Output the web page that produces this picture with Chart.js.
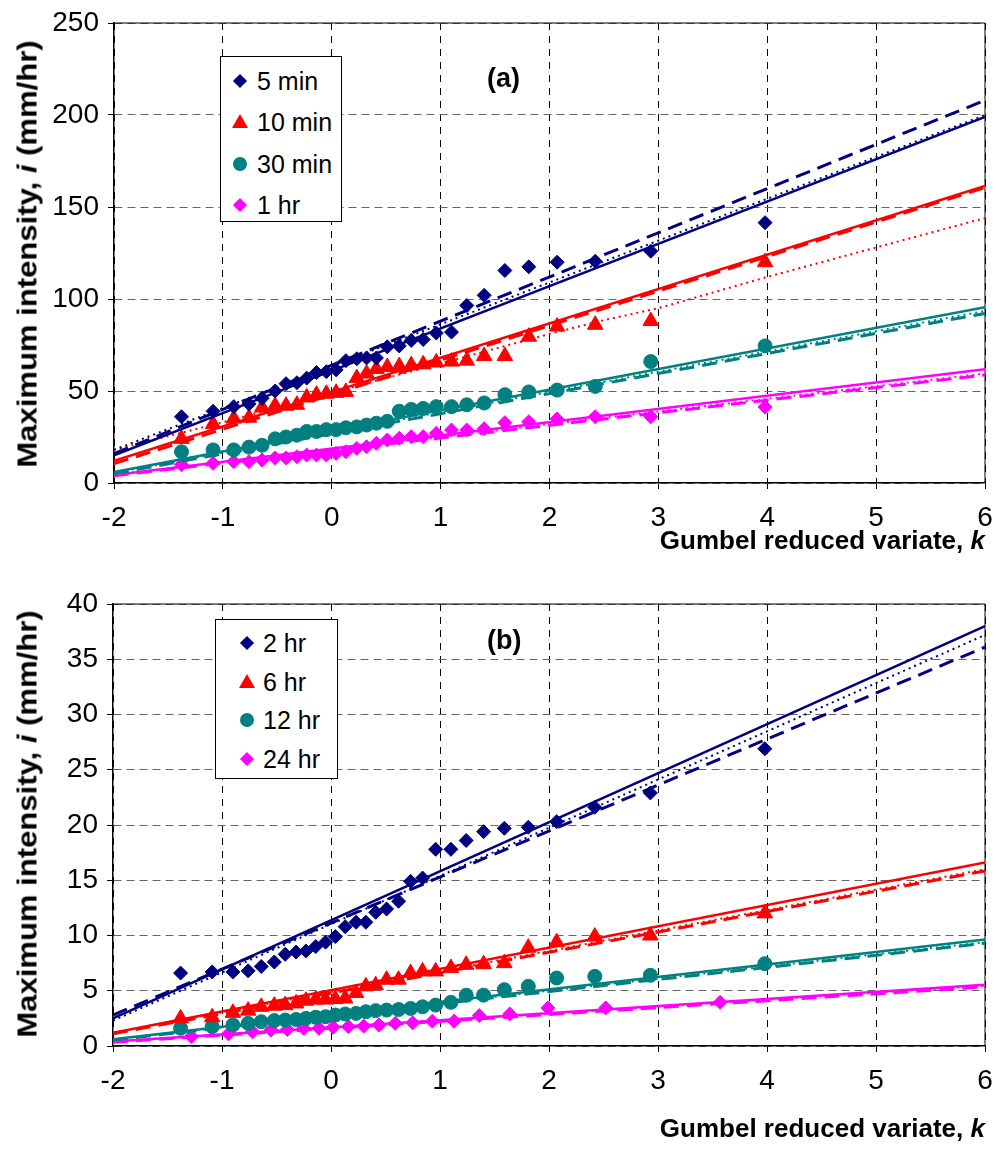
<!DOCTYPE html>
<html lang="en">
<head>
  <meta charset="UTF-8">
  <title>Gumbel plots of maximum rainfall intensity</title>
  <script src="https://cdn.jsdelivr.net/npm/chart.js"></script>
  <style>
    body { margin: 0; background: #fff; font-family: Arial, "Liberation Sans", sans-serif; color: #000; }
    .panel { position: relative; width: 996px; }
    .panel canvas { display: block; }
    .ytitle { position: absolute; font-weight: bold; font-size: 27px; white-space: nowrap;
              transform: translate(-50%, -50%) rotate(-90deg) scaleX(1.15); }
    .xtitle { position: absolute; right: 11px; font-weight: bold; font-size: 26px; white-space: nowrap; line-height: 30px; }
    .tag { position: absolute; font-weight: bold; font-size: 27px; line-height: 30px; }
    .legend { position: absolute; border: 1px solid #000; background: #fff; box-sizing: border-box; }
    .legend .row { position: absolute; left: 0; height: 30px; line-height: 30px; font-size: 25px; white-space: nowrap; }
    .legend .mk { position: absolute; top: 15px; }
    .legend .lb { position: absolute; top: 0; }
    .mk.diamond { width: 10px; height: 10px; margin: -5px 0 0 -5px; transform: rotate(45deg); }
    .mk.triangle { width: 0; height: 0; margin: -8px 0 0 -8px; border-left: 8px solid transparent; border-right: 8px solid transparent; border-bottom: 14px solid; }
    .mk.circle { width: 14px; height: 14px; margin: -7px 0 0 -7px; border-radius: 50%; }
  </style>
</head>
<body>
  <div class="panel" style="height:560px">
    <canvas id="chartA" width="996" height="560"></canvas>
    <div class="ytitle" style="left:28px; top:254px">Maximum intensity, <i>i</i> (mm/hr)</div>
    <div class="xtitle" style="top:525px">Gumbel reduced variate, <i>k</i></div>
    <div class="tag" style="left:487px; top:63px">(a)</div>
    <div class="legend" id="legA" style="left:220px; top:56px; width:122px; height:166px"></div>
  </div>
  <div class="panel" style="height:600px">
    <canvas id="chartB" width="996" height="600"></canvas>
    <div class="ytitle" style="left:28px; top:264px">Maximum intensity, <i>i</i> (mm/hr)</div>
    <div class="xtitle" style="top:553px">Gumbel reduced variate, <i>k</i></div>
    <div class="tag" style="left:487px; top:65px">(b)</div>
    <div class="legend" id="legB" style="left:215px; top:59px; width:123px; height:160px"></div>
  </div>

  <script>
    // Gumbel reduced variate of the plotted points (30 and 20 years of record)
    const k30 = [-1.38, -1.09, -0.90, -0.76, -0.64, -0.52, -0.42, -0.32, -0.23, -0.14,
                 -0.05, 0.04, 0.13, 0.23, 0.32, 0.41, 0.51, 0.62, 0.73, 0.84,
                 0.96, 1.10, 1.24, 1.40, 1.59, 1.81, 2.07, 2.42, 2.93, 3.98];
    const k20 = [-1.28, -0.94, -0.72, -0.55, -0.40, -0.25, -0.11, 0.02, 0.16, 0.30,
                 0.44, 0.59, 0.75, 0.93, 1.13, 1.36, 1.64, 1.99, 2.52, 3.57];

    // (a) short durations, mm/hr
    const min5 = [36, 39, 41.5, 43, 46, 50, 54, 54.5, 57, 60, 60.5, 61.5, 66.5, 67.5, 68,
                  68, 74, 74.5, 77.5, 78, 81.5, 82, 96.5, 102, 115.5, 117.5, 120, 120.5, 126, 141.5];
    const min10 = [24, 32, 35, 35.5, 41, 42, 42, 42.5, 46.5, 48, 48.5, 49, 49.5, 57, 59.5,
                   62, 63, 63.5, 64, 64.5, 65.5, 66, 66.5, 69, 69, 79.5, 85, 86, 88, 120];
    const min30 = [17, 18, 18, 19.5, 20.5, 24, 25, 26, 28, 28, 29, 29, 30, 30.5, 31.5,
                   32.5, 33.5, 39, 40, 40.5, 41.5, 41.5, 42.5, 43.5, 48, 49.5, 50.5, 52.5, 66, 74.5];
    const hr1 = [10, 10.7, 11.6, 11.6, 12.5, 13.6, 13.6, 14.3, 15.2, 15.2, 15.2, 16.1, 17, 18.8, 19.7,
                 21.6, 23.4, 24.3, 25.2, 25.2, 27, 28.8, 28.8, 29.5, 32.8, 33.3, 34.8, 36, 36, 41.3];

    // (b) long durations, mm/hr
    const hr2 = [6.6, 6.7, 6.7, 6.8, 7.2, 7.6, 8.3, 8.5, 8.6, 9.0, 9.4, 9.9, 10.8, 11.2, 11.2,
                 12.1, 12.4, 13.1, 14.9, 15.2, 17.8, 17.8, 18.6, 19.4, 19.7, 19.8, 20.3, 21.6, 22.9, 26.9];
    const hr6 = [2.5, 2.6, 3.0, 3.2, 3.55, 3.65, 3.7, 3.85, 4.1, 4.2, 4.2, 4.25, 4.3, 4.8, 5.4,
                 5.5, 6.0, 6.0, 6.6, 6.75, 6.75, 7.05, 7.35, 7.4, 7.5, 8.9, 9.4, 9.9, 10.0, 12.0];
    const hr12 = [1.6, 1.75, 1.9, 2.05, 2.2, 2.3, 2.35, 2.4, 2.5, 2.6, 2.65, 2.8, 2.9, 2.95, 3.1,
                  3.2, 3.25, 3.3, 3.4, 3.55, 3.7, 3.95, 4.6, 4.6, 5.1, 5.4, 6.15, 6.3, 6.4, 7.45];
    const hr24 = [0.85, 1.1, 1.3, 1.45, 1.5, 1.6, 1.6, 1.7, 1.75, 1.8, 1.9, 2.05, 2.1, 2.25, 2.25,
                  2.75, 2.9, 3.45, 3.45, 3.95];

    // fitted lines, values at k = -2 and k = 6
    const fitK = [-2, 6];
    const fit5 = { solid: [15, 199], dash: [16, 208], dot: [18, 200] };
    const fit10 = { solid: [12, 161.4], dash: [10.5, 160.6] };
    const fit10DotK = [-2, -1, 0, 1, 1.5, 2, 2.5, 3, 3.5, 4, 5, 6];
    const fit10Dot = [18, 33, 49, 65, 73, 81, 88.5, 95, 103.5, 112, 128, 144];
    const fit30 = { solid: [6, 95.5], dash: [5, 92.2], dot: [5.5, 93.5] };
    const fit60 = { solid: [4.3, 61.8], dash: [4, 58.7], dot: [4.5, 59.5] };
    const fit2h = { solid: [2.5, 38], dash: [2.8, 36.1], dot: [2.3, 37.2] };
    const fit6h = { solid: [1.2, 16.6], dash: [1.1, 15.85], dot: [1.2, 16.0] };
    const fit12h = { solid: [0.6, 9.65], dash: [0.55, 9.3], dot: [0.6, 9.4] };
    const fit24h = { solid: [0.4, 5.55], dash: [0.35, 5.35], dot: [0.4, 5.45] };

    const NAVY = '#000080', RED = '#ff0000', TEAL = '#008080', PINK = '#ff00ff';

    Chart.defaults.font.family = 'Arial, "Liberation Sans", sans-serif';
    Chart.defaults.color = '#000';

    function pts(xs, ys) { return xs.map((x, i) => ({ x: x, y: ys[i] })); }

    function marks(label, xs, ys, color, shape, r) {
      return { label, data: pts(xs, ys), showLine: false, order: 2,
               pointStyle: shape, pointRadius: r, pointBackgroundColor: color,
               pointBorderColor: color, pointBorderWidth: 1 };
    }

    function fit(xs, ys, color, style) {
      const dash = style === 'dash' ? [15, 8] : style === 'dot' ? [2, 4] : [];
      const w = style === 'dash' ? 3 : style === 'dot' ? 2 : 2.5;
      return { data: pts(xs, ys), showLine: true, order: 1, borderColor: color,
               borderWidth: w, borderDash: dash, pointRadius: 0, fill: false };
    }

    function fitSet(f, color) {
      return ['dot', 'dash', 'solid'].filter(s => f[s]).map(s => fit(fitK, f[s], color, s));
    }

    // top and right edges of the plot area
    const frame = {
      id: 'frame',
      beforeDatasetsDraw(chart) {
        const { ctx, chartArea: a } = chart;
        ctx.save();
        ctx.strokeStyle = '#000';
        ctx.lineWidth = 1;
        ctx.beginPath();
        ctx.moveTo(a.left, a.top);
        ctx.lineTo(a.right, a.top);
        ctx.lineTo(a.right, a.bottom);
        ctx.stroke();
        ctx.restore();
      }
    };

    function makeChart(id, datasets, yMax, yStep, box) {
      return new Chart(document.getElementById(id), {
        type: 'scatter',
        data: { datasets },
        options: {
          responsive: false,
          animation: false,
          devicePixelRatio: 1,
          layout: { padding: { top: box.top, right: 11, left: 0, bottom: 0 } },
          plugins: { legend: { display: false }, tooltip: { enabled: false } },
          scales: {
            x: {
              type: 'linear', min: -2, max: 6,
              ticks: { stepSize: 1, font: { size: 28 }, padding: 12 },
              grid: { color: '#000', lineWidth: 1, tickLength: 6, tickColor: '#000', tickBorderDash: [] },
              border: { color: '#000', width: 1.5, dash: [7, 6] },
              afterFit: s => { s.height = box.xh; s.paddingLeft = 0; s.paddingRight = 0; }
            },
            y: {
              min: 0, max: yMax,
              ticks: { stepSize: yStep, font: { size: 28 }, padding: 9 },
              grid: { color: '#666', lineWidth: 1, tickLength: 6, tickColor: '#000', tickBorderDash: [] },
              border: { color: '#000', width: 1.5, dash: [8, 5] },
              afterFit: s => { s.width = box.left; s.paddingTop = 0; s.paddingBottom = 0; }
            }
          }
        },
        plugins: [frame]
      });
    }

    makeChart('chartA', [
      marks('5 min', k30, min5, NAVY, 'rectRot', 7),
      marks('10 min', k30, min10, RED, 'triangle', 9),
      marks('30 min', k30, min30, TEAL, 'circle', 7),
      marks('1 hr', k30, hr1, PINK, 'rectRot', 7),
      ...fitSet(fit5, NAVY),
      ...fitSet(fit10, RED),
      fit(fit10DotK, fit10Dot, RED, 'dot'),
      ...fitSet(fit30, TEAL),
      ...fitSet(fit60, PINK)
    ], 250, 50, { top: 23, left: 114, xh: 77 });

    makeChart('chartB', [
      marks('2 hr', k30, hr2, NAVY, 'rectRot', 7),
      marks('6 hr', k30, hr6, RED, 'triangle', 9),
      marks('12 hr', k30, hr12, TEAL, 'circle', 7),
      marks('24 hr', k20, hr24, PINK, 'rectRot', 7),
      ...fitSet(fit2h, NAVY),
      ...fitSet(fit6h, RED),
      ...fitSet(fit12h, TEAL),
      ...fitSet(fit24h, PINK)
    ], 40, 5, { top: 44, left: 113, xh: 114 });

    // legends inside the plot area
    function buildLegend(id, items, mx, tx, y0, dy) {
      const el = document.getElementById(id);
      items.forEach((it, i) => {
        const row = document.createElement('div');
        row.className = 'row';
        row.style.top = (y0 + i * dy - 15) + 'px';
        const mk = document.createElement('span');
        mk.className = 'mk ' + it[2];
        mk.style.left = mx + 'px';
        if (it[2] === 'triangle') mk.style.borderBottomColor = it[1];
        else mk.style.background = it[1];
        const lb = document.createElement('span');
        lb.className = 'lb';
        lb.style.left = tx + 'px';
        lb.textContent = it[0];
        row.appendChild(mk);
        row.appendChild(lb);
        el.appendChild(row);
      });
    }

    buildLegend('legA', [['5 min', NAVY, 'diamond'], ['10 min', RED, 'triangle'],
                         ['30 min', TEAL, 'circle'], ['1 hr', PINK, 'diamond']], 19, 36, 24, 41.3);
    buildLegend('legB', [['2 hr', NAVY, 'diamond'], ['6 hr', RED, 'triangle'],
                         ['12 hr', TEAL, 'circle'], ['24 hr', PINK, 'diamond']], 31, 47, 23, 38.7);
  </script>
</body>
</html>
